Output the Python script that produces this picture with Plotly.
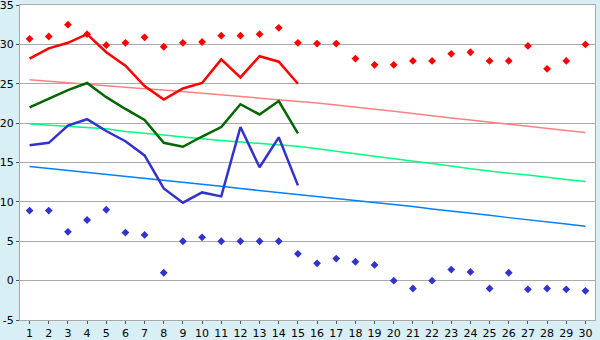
import plotly.graph_objects as go

days = list(range(1, 31))

record_max = [30.7, 31.0, 32.5, 31.3, 29.9, 30.2, 30.9, 29.7, 30.2, 30.3,
              31.1, 31.1, 31.3, 32.1, 30.2, 30.1, 30.1, 28.2, 27.4, 27.4,
              27.9, 27.9, 28.8, 29.0, 27.9, 27.9, 29.8, 26.9, 27.9, 30.0]
record_min = [8.9, 8.9, 6.2, 7.7, 9.0, 6.1, 5.8, 1.0, 5.0, 5.5,
              5.0, 5.0, 5.0, 5.0, 3.4, 2.2, 2.8, 2.4, 2.0, 0.0,
              -1.0, 0.0, 1.4, 1.1, -1.0, 1.0, -1.1, -1.0, -1.1, -1.3]

obs_days = list(range(1, 16))
obs_max = [28.2, 29.5, 30.2, 31.3, 29.0, 27.3, 24.7, 23.0, 24.4, 25.1,
           28.1, 25.8, 28.5, 27.8, 25.0]
obs_mean = [22.0, 23.1, 24.2, 25.1, 23.3, 21.8, 20.4, 17.5, 17.0, 18.3,
            19.5, 22.4, 21.1, 22.8, 18.7]
obs_min = [17.2, 17.5, 19.7, 20.5, 19.0, 17.7, 15.9, 11.7, 9.9, 11.2,
           10.7, 19.5, 14.4, 18.2, 12.1]

normal_max = [25.5, 25.3, 25.1, 24.9, 24.7, 24.5, 24.35, 24.2, 24.0, 23.8,
              23.6, 23.4, 23.2, 23.0, 22.8, 22.55, 22.3, 22.0, 21.75, 21.5,
              21.2, 20.95, 20.65, 20.4, 20.1, 19.85, 19.6, 19.3, 19.05, 18.8]
normal_mean = [19.9, 19.75, 19.6, 19.45, 19.3, 18.95, 18.75, 18.5, 18.25, 18.0,
               17.8, 17.6, 17.4, 17.2, 17.05, 16.75, 16.4, 16.1, 15.8, 15.5,
               15.2, 14.85, 14.55, 14.2, 13.9, 13.65, 13.4, 13.1, 12.85, 12.6]
normal_min = [14.5, 14.25, 14.0, 13.75, 13.5, 13.25, 13.0, 12.75, 12.5, 12.3,
              12.0, 11.7, 11.45, 11.2, 10.9, 10.65, 10.4, 10.2, 9.95, 9.7,
              9.4, 9.1, 8.85, 8.55, 8.3, 8.0, 7.75, 7.45, 7.2, 6.9]

y_ticks = [-5, 0, 5, 10, 15, 20, 25, 30, 35]
y_labels = ["-5", "0", "5", "10", "15", "20", "25", "30", "35"]

fig = go.Figure()

fig.add_trace(go.Scatter(x=days, y=normal_max, mode="lines",
                         line=dict(color="#ff8080", width=1.5), hoverinfo="skip"))
fig.add_trace(go.Scatter(x=days, y=normal_mean, mode="lines",
                         line=dict(color="#00ff80", width=1.5), hoverinfo="skip"))
fig.add_trace(go.Scatter(x=days, y=normal_min, mode="lines",
                         line=dict(color="#0080ff", width=1.5), hoverinfo="skip"))

fig.add_trace(go.Scatter(x=obs_days, y=obs_max, mode="lines",
                         line=dict(color="#ff0000", width=2.5)))
fig.add_trace(go.Scatter(x=obs_days, y=obs_mean, mode="lines",
                         line=dict(color="#006600", width=2.5)))
fig.add_trace(go.Scatter(x=obs_days, y=obs_min, mode="lines",
                         line=dict(color="#3333cc", width=2.5)))

fig.add_trace(go.Scatter(x=days, y=record_max, mode="markers",
                         marker=dict(symbol="diamond", size=6, color="#ff0000")))
fig.add_trace(go.Scatter(x=days, y=record_min, mode="markers",
                         marker=dict(symbol="diamond", size=6, color="#3333cc")))

fig.update_layout(
    width=600, height=340,
    margin=dict(l=20, r=5, t=5, b=20),
    paper_bgcolor="#d9eff6",
    plot_bgcolor="#ffffff",
    showlegend=False,
    font=dict(family="DejaVu Sans", size=11, color="#000000"),
)
fig.update_xaxes(
    range=[0.5, 30.5], tickmode="array", tickvals=days,
    ticktext=[str(d) for d in days],
    showgrid=False, zeroline=False, automargin=False,
    showline=True, linecolor="#a9a9a9", linewidth=1, mirror=True,
    ticks="outside", ticklen=3, tickcolor="#555555",
    tickfont=dict(size=11), ticklabelstandoff=0,
)
fig.update_yaxes(
    range=[-5, 35], tickmode="array", tickvals=y_ticks, ticktext=y_labels,
    showgrid=True, gridcolor="#aaaaaa", gridwidth=1, zeroline=False,
    automargin=False,
    showline=True, linecolor="#a9a9a9", linewidth=1, mirror=True,
    ticks="outside", ticklen=3, tickcolor="#555555",
    tickfont=dict(size=11), ticklabeloverflow="allow",
)

fig.write_html("out.html")
